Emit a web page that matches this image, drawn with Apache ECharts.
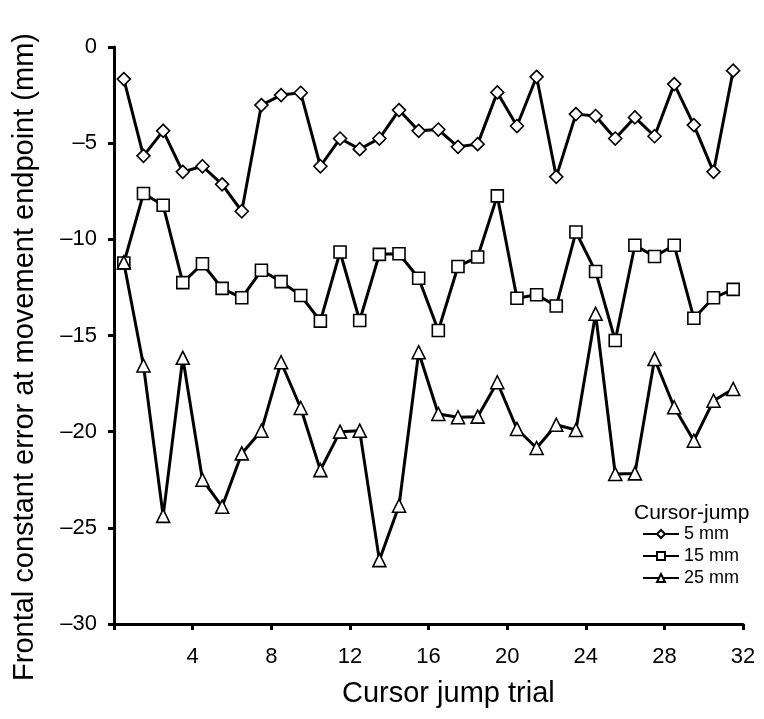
<!DOCTYPE html>
<html>
<head>
<meta charset="utf-8">
<script src="https://cdn.jsdelivr.net/npm/echarts@6/dist/echarts.min.js"></script>
<style>
  html, body { margin: 0; padding: 0; background: #fff; }
  #chart { width: 764px; height: 719px; }
</style>
</head>
<body>
<div id="chart"></div>
<script>
// Trial numbers (each point is plotted in the middle of its trial slot)
const trials = Array.from({ length: 32 }, (_, i) => i + 1);

// Frontal constant error (mm) per cursor-jump size
const jump5mm = [-1.67, -5.66, -4.36, -6.49, -6.2, -7.14, -8.54, -3.02, -2.5, -2.38,
  -6.2, -4.76, -5.31, -4.76, -3.28, -4.36, -4.29, -5.19, -5.05, -2.36,
  -4.11, -1.55, -6.75, -3.49, -3.59, -4.76, -3.66, -4.64, -1.93, -4.06,
  -6.49, -1.23];
const jump15mm = [-11.23, -7.62, -8.23, -12.25, -11.27, -12.55, -13.04, -11.61, -12.2, -12.92,
  -14.25, -10.66, -14.22, -10.78, -10.75, -12.02, -14.74, -11.41, -10.92, -7.74,
  -13.06, -12.88, -13.47, -9.62, -11.67, -15.26, -10.31, -10.89, -10.31, -14.1,
  -13.04, -12.6];
const jump25mm = [-11.2, -16.56, -24.38, -16.16, -22.5, -23.9, -21.13, -19.95, -16.39, -18.77,
  -22.0, -20.0, -19.95, -26.68, -23.85, -15.87, -19.08, -19.25, -19.22, -17.43,
  -19.86, -20.85, -19.64, -19.91, -13.87, -22.2, -22.17, -16.22, -18.73, -20.47,
  -18.39, -17.78];

const seriesNames = ['5 mm', '15 mm', '25 mm'];
const legendTitle = 'Cursor-jump';
const xTitle = 'Cursor jump trial';
const yTitle = 'Frontal constant error at movement endpoint (mm)';
const xTicks = [4, 8, 12, 16, 20, 24, 28, 32];
const yTicks = [0, -5, -10, -15, -20, -25, -30];

const font = '"Liberation Sans", Arial, Helvetica, sans-serif';

function pairs(values) {
  return values.map((v, i) => [trials[i] - 0.5, v]);
}

function lineSeries(name, values, symbol, size) {
  return {
    name: name,
    type: 'line',
    data: pairs(values),
    symbol: symbol,
    symbolSize: size,
    showAllSymbol: true,
    lineStyle: { color: '#000', width: 3 },
    itemStyle: { color: '#fff', borderColor: '#000', borderWidth: 1.6 },
    emphasis: { disabled: true },
    z: 3
  };
}

const chart = echarts.init(document.getElementById('chart'), null, { renderer: 'canvas' });

chart.setOption({
  animation: false,
  backgroundColor: '#fff',
  grid: { left: 114, top: 47, width: 629, height: 577, containLabel: false },
  title: {
    text: legendTitle,
    left: 629,
    top: 498,
    textStyle: { fontFamily: font, fontSize: 21, fontWeight: 'normal', color: '#000' }
  },
  legend: {
    data: seriesNames,
    orient: 'vertical',
    left: 637,
    top: 520,
    itemWidth: 36,
    itemHeight: 10,
    itemGap: 4,
    textStyle: { fontFamily: font, fontSize: 18, color: '#000' },
    selectedMode: false
  },
  graphic: [
    {
      type: 'text',
      left: 342,
      top: 679,
      style: { text: xTitle, font: '29px ' + font, fill: '#000' }
    },
    {
      type: 'text',
      x: 25,
      y: 357,
      rotation: Math.PI / 2,
      style: {
        text: yTitle, font: '29px ' + font, fill: '#000',
        align: 'center', verticalAlign: 'middle'
      }
    }
  ],
  xAxis: {
    type: 'value',
    min: 0,
    max: 32,
    interval: 4,
    axisLine: { onZero: false, lineStyle: { color: '#000', width: 3 } },
    axisTick: { show: true, length: 6, lineStyle: { color: '#000', width: 3 } },
    axisLabel: {
      fontFamily: font, fontSize: 22, color: '#000', margin: 22,
      formatter: v => (xTicks.indexOf(v) >= 0 ? String(v) : '')
    },
    splitLine: { show: false }
  },
  yAxis: {
    type: 'value',
    min: -30,
    max: 0,
    interval: 5,
    axisLine: { onZero: false, lineStyle: { color: '#000', width: 3 } },
    axisTick: { show: true, length: 6, lineStyle: { color: '#000', width: 3 } },
    axisLabel: {
      fontFamily: font, fontSize: 22, color: '#000', margin: 17,
      formatter: v => (yTicks.indexOf(v) >= 0 ? (v < 0 ? '\u2013' + Math.abs(v) : String(v)) : '')
    },
    splitLine: { show: false }
  },
  series: [
    lineSeries(seriesNames[0], jump5mm, 'diamond', 13),
    lineSeries(seriesNames[1], jump15mm, 'rect', 12),
    lineSeries(seriesNames[2], jump25mm, 'triangle', 13)
  ]
});
</script>
</body>
</html>
